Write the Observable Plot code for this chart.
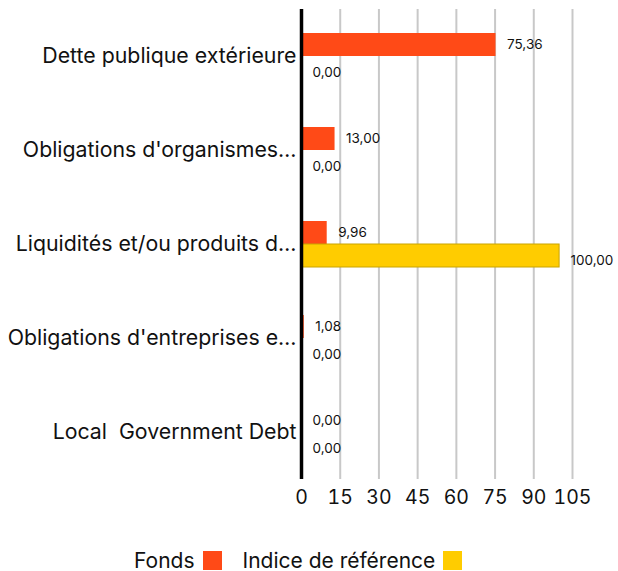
<!DOCTYPE html>
<html><head><meta charset="utf-8">
<script src="https://cdn.jsdelivr.net/npm/d3@7"></script>
<script src="https://cdn.jsdelivr.net/npm/@observablehq/plot@0.6"></script>
<style>
body{margin:0;background:#fff;font-family:Inter,sans-serif;}
#legend{display:flex;align-items:center;height:30px;margin-top:30px;padding-left:134px;font-size:21px;color:#111;}
.sw{width:19px;height:19px;display:inline-block;margin-left:8px;margin-right:21px}
</style></head><body>
<div id="chart"></div>
<div id="legend"></div>
<script>
const categories = ["Dette publique extérieure","Obligations d'organismes…","Liquidités et/ou produits d…","Obligations d'entreprises e…","Local\u00a0 Government Debt"];
const fondsValues = [75.36, 13.00, 9.96, 1.08, 0.00];
const indiceValues = [0.00, 0.00, 100.00, 0.00, 0.00];
const seriesNames = ["Fonds","Indice de référence"];
const xTicks = [0,15,30,45,60,75,90,105];
const colors = ["#FF4A17","#FFCC00"];

const data = categories.flatMap((c,i)=>[
  {category:c, series:seriesNames[0], value:fondsValues[i]},
  {category:c, series:seriesNames[1], value:indiceValues[i]}
]);
const fonds = data.filter(d=>d.series===seriesNames[0]);
const indice = data.filter(d=>d.series===seriesNames[1]);
const fmt = v => v.toFixed(2).replace(".",",");

const plot = Plot.plot({
  width:618, height:515, marginLeft:301, marginRight:46, marginTop:9, marginBottom:36,
  style:{fontFamily:"Inter, sans-serif", fontSize:"19.5px", color:"#111", overflow:"visible", background:"#fff"},
  x:{domain:[0,105], ticks:xTicks, tickSize:0, tickPadding:11, tickFormat:d=>String(d), label:null},
  y:{domain:seriesNames, axis:null, paddingInner:0, paddingOuter:1.043},
  fy:{domain:categories, padding:0, axis:"left", tickSize:0, tickPadding:5, label:null},
  color:{domain:seriesNames, range:colors},
  marks:[
    Plot.ruleX(xTicks.slice(1), {stroke:"#c8c8c8", strokeWidth:2, strokeOpacity:1}),
    Plot.barX(fonds,{fy:"category", y:"series", x:"value", fill:"series"}),
    Plot.barX(indice,{fy:"category", y:"series", x:"value", fill:"series", stroke:"#C9A400", strokeWidth:1}),
    Plot.ruleX([0],{stroke:"#000", strokeWidth:3.5}),
    Plot.text(fonds,{fy:"category", y:"series", x:"value", text:d=>fmt(d.value), dx:11, textAnchor:"start", fontSize:13.5, fill:"#111"}),
    Plot.text(indice,{fy:"category", y:"series", x:"value", text:d=>fmt(d.value), dx:11, dy:5, textAnchor:"start", fontSize:13.5, fill:"#111"})
  ]
});
plot.querySelectorAll('[aria-label="fy-axis tick label"] text, [aria-label="fy-axis"] text').forEach(t=>t.setAttribute("font-size","21.3px"));
document.getElementById("chart").appendChild(plot);

const legend = document.getElementById("legend");
seriesNames.forEach((s,i)=>{
  const t = document.createElement("span"); t.textContent = s; legend.appendChild(t);
  const sw = document.createElement("span"); sw.className="sw"; sw.style.background = colors[i]; legend.appendChild(sw);
});
</script>
</body></html>
